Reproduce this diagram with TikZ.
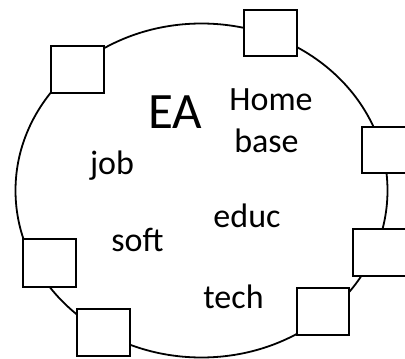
\documentclass[tikz,border=0pt]{standalone}
\usepackage{fontspec}
\setmainfont{Carlito}
\usetikzlibrary{shapes.geometric}
\begin{document}
\begin{tikzpicture}[x=1pt,y=-1pt,
  port/.style={draw=black,fill=white,line width=1.8pt},
  lbl/.style={anchor=base,inner sep=0pt,font=\fontsize{34}{34}\selectfont},
  big/.style={anchor=base,inner sep=0pt,font=\fontsize{51}{51}\selectfont}]
\useasboundingbox (0,0) rectangle (405,359);
\clip (0,0) rectangle (405,359);
\fill[white] (0,0) rectangle (405,359);
\node[draw=black,line width=1.8pt,ellipse,minimum width=372pt,minimum height=334pt,inner sep=0pt] (ring) at (201.5,190.5) {};
\path[port] (51,46) rectangle (104,93) coordinate (p1);
\path[port] (244,10) rectangle (297,56) coordinate (p2);
\path[port] (362,127) rectangle (415,173) coordinate (p3);
\path[port] (353,229) rectangle (406,276) coordinate (p4);
\path[port] (297,288) rectangle (349,335) coordinate (p5);
\path[port] (77,309) rectangle (130,356) coordinate (p6);
\path[port] (23,239) rectangle (76,287) coordinate (p7);
\node[big] (ea) at (175,128) {EA};
\node[lbl] (home) at (271,110) {Home};
\node[lbl] (base) at (266.5,152) {base};
\node[lbl] (job) at (112,174) {job};
\node[lbl] (educ) at (247,227) {educ};
\node[lbl] (soft) at (137.5,251) {soft};
\node[lbl] (tech) at (233.5,308) {tech};
\end{tikzpicture}
\end{document}
